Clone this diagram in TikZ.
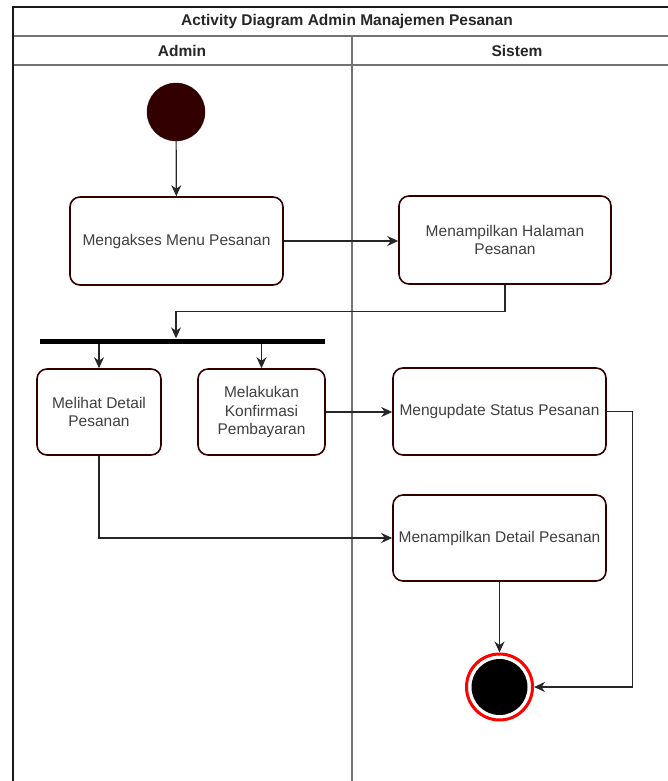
\documentclass[tikz,border=0pt]{standalone}
\usepackage{fontspec}
\setmainfont{Liberation Sans}
\usetikzlibrary{arrows.meta, positioning}

\definecolor{boxline}{HTML}{330000}
\definecolor{boxtext}{HTML}{404040}

\tikzset{
  activity/.style={draw=boxline, line width=1.6pt, rounded corners=10pt, fill=white,
    align=center, text=boxtext, font=\fontsize{15.5}{18.5}\selectfont, inner sep=2pt},
  lanetitle/.style={font=\bfseries\fontsize{15.5}{18}\selectfont, text=black!85},
  initial/.style={circle, fill=boxline, draw=boxline, minimum size=58pt, inner sep=0pt},
  final/.style={circle, draw=red, line width=3pt, fill=white, minimum size=66pt, inner sep=0pt},
  finaldot/.style={circle, fill=black, minimum size=56pt, inner sep=0pt},
  forkbar/.style={fill=black, minimum width=285pt, minimum height=5pt, inner sep=0pt},
  flow/.style={draw=black!85, line width=1.2pt, -{Stealth[length=11pt, width=10pt]}},
  lane/.style={draw=black!55, line width=1.6pt},
}

\begin{document}
\begin{tikzpicture}[x=1pt, y=-1pt]
\useasboundingbox (0,0) rectangle (667,781);

% Swimlanes
\fill[white] (12.5,7.5) rectangle (682,790);
\draw[lane] (12.5,36) -- (682,36);
\draw[lane] (12.5,65) -- (682,65);
\draw[lane] (352,36) -- (352,790);
\draw[black!90, line width=2pt] (12.5,790) -- (12.5,7.5) -- (682,7.5);
\path (347,21.5) node[lanetitle] (title) {Activity Diagram Admin Manajemen Pesanan}
  (182,50.5) node[lanetitle] (admin) {Admin}
  (517,50.5) node[lanetitle] (sistem) {Sistem};

% Define nodes
\path (176,112) node[initial] (start) {}
  (176.5,241) node[activity, minimum width=213pt, minimum height=88pt] (akses) {Mengakses Menu Pesanan}
  (505,240) node[activity, minimum width=212pt, minimum height=88pt] (halaman) {Menampilkan Halaman\\Pesanan}
  (182.5,341) node[forkbar] (fork) {}
  (99,412) node[activity, minimum width=124pt, minimum height=86pt] (lihat) {Melihat Detail\\Pesanan}
  (261.5,412) node[activity, minimum width=127pt, minimum height=86pt] (konfirmasi) {Melakukan\\Konfirmasi\\Pembayaran}
  (499.5,411.5) node[activity, minimum width=213pt, minimum height=87pt] (update) {Mengupdate Status Pesanan}
  (499.5,538) node[activity, minimum width=213pt, minimum height=86pt] (detail) {Menampilkan Detail Pesanan}
  (499.5,687) node[final] (end) {}
  (end.center) node[finaldot] (enddot) {}
  ;

% Connectors
\draw[flow] (start) -- (akses);
\draw[flow] (akses.east) -- (halaman.west |- akses.east);
\draw[flow] (halaman.south) -- ++(0,27) -| (fork.north -| start);
\draw[flow] (fork.south -| lihat) -- (lihat.north);
\draw[flow] (fork.south -| konfirmasi) -- (konfirmasi.north);
\draw[flow] (konfirmasi.east) -- (update.west |- konfirmasi.east);
\draw[flow] (lihat.south) |- (detail.west);
\draw[flow] (detail.south) -- (end.north);
\draw[flow] (update.east) -- ++(26,0) |- (end.east);

\end{tikzpicture}
\end{document}
